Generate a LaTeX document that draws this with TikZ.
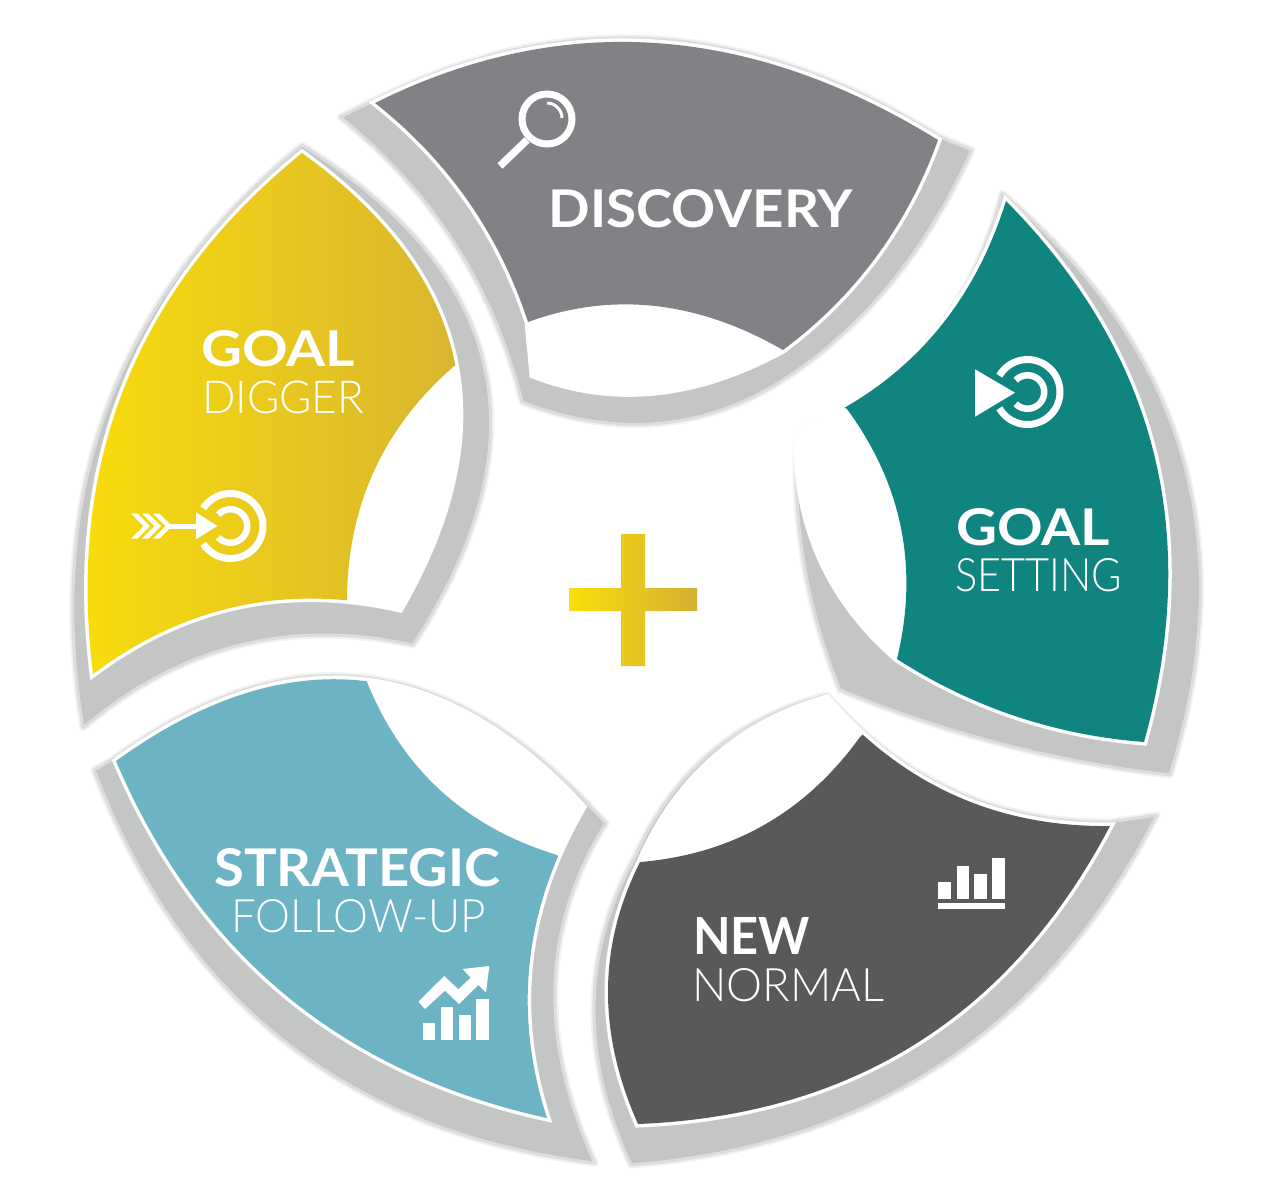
\documentclass[tikz,border=0pt]{standalone}
\usepackage{graphicx}
\usepackage{fontspec}
\setmainfont{Lato}
\newfontfamily\lightfont{Lato Light}
\definecolor{shadowc}{HTML}{C4C6C5}
\definecolor{discc}{HTML}{808285}
\definecolor{tealc}{HTML}{10857F}
\definecolor{newc}{HTML}{58595B}
\definecolor{stratc}{HTML}{6CB3C4}
\definecolor{yellowl}{HTML}{F9DE0A}
\definecolor{goldr}{HTML}{D5B033}
\definecolor{goldm}{HTML}{DFBE2E}
\tikzset{
  shadowshape/.style={fill=shadowc,draw=shadowc!60!white,line width=3,line join=round,
    preaction={draw=shadowc!25!white,line width=7,line join=round}},
  whiteshape/.style={fill=white,draw=white,line width=7,line join=miter,miter limit=6},
  colorshape/.style={fill=#1,draw=none},
  goldshade/.style={left color=yellowl,middle color=goldm,right color=goldr,shading angle=90},
  icon/.style={fill=white,draw=none},
  ringline/.style={draw=white,line width=#1,line cap=butt},
  boldtext/.style={inner sep=0,anchor=base west,text=white},
  lighttext/.style={inner sep=0,anchor=base west,text=white},
}
\newcommand{\fitbold}[3]{\resizebox{#1pt}{#2pt}{\bfseries #3}}
\newcommand{\fitlight}[3]{\resizebox{#1pt}{#2pt}{\lightfont #3}}
\newcommand{\ringarc}[5]{plot[domain=#4:#5,samples=50,smooth] ({#1+#3*cos(\x)},{#2+#3*sin(\x)})}
\newcommand{\chevron}[1]{(#1,513.5) -- (#1+6.5,513.5) -- (#1+19,526) -- (#1+6.5,538.5) -- (#1,538.5) -- (#1+12.5,526) -- cycle}
% curve from the current point (x0,y0) through its middle (mx,my) to (x1,y1)
\newcommand{\qc}[6]{.. controls ({(4*#3-#5)/3},{(4*#4-#6)/3}) and ({(4*#3-#1)/3},{(4*#4-#2)/3}) .. (#5,#6)}
% full outlines
\newcommand{\FDisc}{(375,103) \qc{375}{103}{655}{43}{938}{140} \qc{938}{140}{876}{257}{783}{350} \qc{783}{350}{655}{392}{533}{375} -- (528,322) \qc{528}{322}{468}{201}{375}{103} -- cycle}
\newcommand{\FTeal}{(1006,201) \qc{1006}{201}{1153}{450}{1144}{742} \qc{1144}{742}{1015}{716}{897}{659} \qc{897}{659}{820}{557}{797}{431} \qc{797}{431}{928}{341}{1006}{201} -- cycle}
\newcommand{\FNew}{(827,698) \qc{827}{698}{954}{795}{1110}{826} \qc{1110}{826}{917}{1043}{638}{1124} \qc{638}{1124}{608}{990}{640}{862} \qc{640}{862}{714}{758}{827}{698} -- cycle}
\newcommand{\FStrat}{(116,761) \qc{116}{761}{360}{680.5}{583}{807} \qc{583}{807}{530}{960}{547}{1118} \qc{547}{1118}{285.5}{995}{116}{761} -- cycle}
\newcommand{\FGold}{(302,153) \qc{302}{153}{125.5}{384.5}{93}{674} \qc{93}{674}{239}{606}{400}{609} \qc{400}{609}{454}{359}{302}{153} -- cycle}
\begin{document}
\begin{tikzpicture}[x=1pt,y=-1pt]
\useasboundingbox (0,0) rectangle (1266,1200);
\fill[white] (0,0) rectangle (1266,1200);

% ---------- shadows ----------
\path[shadowshape] (340,117) \qc{340}{117}{455}{244}{522}{402} \qc{522}{402}{650}{424}{770}{388} \qc{770}{388}{885}{290}{972}{150}
  -- (938,136) \qc{938}{136}{655}{39}{375}{100} -- cycle;
\path[shadowshape] (1002,193) \qc{1002}{193}{1182}{456}{1170}{775} \qc{1170}{775}{1002}{744}{840}{690}
  \qc{840}{690}{804}{563}{797}{431} \qc{797}{431}{928}{341}{1002}{193} -- cycle;
\path[shadowshape] (1157,815) \qc{1157}{815}{943}{1063}{631}{1165} \qc{631}{1165}{594}{1005}{636}{855}
  \qc{636}{855}{712}{752}{827}{695} \qc{827}{695}{954}{791}{1110}{822} -- cycle;
\path[shadowshape] (606,823) \qc{606}{823}{555}{985}{595}{1163} \qc{595}{1163}{285.5}{1042}{94}{770}
  -- (116,757) \qc{116}{757}{360}{677}{587}{803} -- cycle;
\path[shadowshape] (83,728) \qc{83}{728}{238}{645.5}{413}{645} \qc{413}{645}{484.5}{367}{302}{145}
  \qc{302}{145}{108.5}{404.5}{83}{728} -- cycle;

% ---------- white bodies ----------
\path[whiteshape] \FDisc;
\path[whiteshape] \FTeal;
\path[whiteshape] \FNew;
\path[whiteshape] \FStrat;
\path[whiteshape] \FGold;

% ---------- coloured parts ----------
\begin{scope}
  \clip (528,322) \qc{528}{322}{655}{306}{783}{350} -- (1000,350) -- (1000,0) -- (300,0) -- (300,322) -- cycle;
  \path[colorshape=discc] \FDisc;
\end{scope}
\begin{scope}
  \clip (847,409) \qc{847}{409}{901}{528}{897}{659} -- (897,900) -- (1300,900) -- (1300,100) -- (830,100) -- (830,398) -- cycle;
  \path[colorshape=tealc] \FTeal;
\end{scope}
\begin{scope}
  \clip (640,862) \qc{640}{862}{764}{825}{860}{737} -- (870,728) -- (1300,728) -- (1300,1300) -- (400,1300) -- (400,862) -- cycle;
  \path[colorshape=newc] \FNew;
\end{scope}
\begin{scope}
  \clip (367,682) \qc{367}{682}{440}{790}{554}{854} -- (570,861) -- (570,1300) -- (0,1300) -- (0,600) -- (367,600) -- cycle;
  \path[colorshape=stratc] \FStrat;
\end{scope}
\begin{scope}
  \clip (347,597) \qc{347}{597}{374.5}{470}{453}{367} -- (470,354) -- (470,100) -- (0,100) -- (0,800) -- (347,800) -- cycle;
  \shade[goldshade] \FGold;
\end{scope}

% ---------- centre plus ----------
\shade[goldshade]
  (569,588) -- (621,588) -- (621,534) -- (645,534) -- (645,588) -- (697,588) -- (697,611)
  -- (645,611) -- (645,666) -- (621,666) -- (621,611) -- (569,611) -- cycle;

% ---------- magnifier ----------
\coordinate (lensc) at (547,119);
\coordinate (handlea) at (527,140);
\coordinate (handleb) at (500,166);
\coordinate (glinta) at (547,103);
\coordinate (glintb) at (562,118);
\draw[white,line width=7] (lensc) circle[radius=25];
\draw[white,line width=7.5] (handlea) -- (handleb);
\draw[white,line width=3] (glinta) .. controls (555,103) and (562,110) .. (glintb);

% ---------- goal setting target ----------
\draw[ringline=7] \ringarc{1027.5}{392}{32.5}{-150}{150};
\draw[ringline=6.5] \ringarc{1027.5}{392}{16.7}{-135}{135};
\path[icon] (975,369.3) -- (975,416.7) -- (1015,392.7) -- cycle;

% ---------- goal digger target and arrow ----------
\draw[ringline=7] \ringarc{230.5}{526}{32.5}{-147}{147};
\draw[ringline=6.5] \ringarc{230.5}{526}{16.7}{-137}{137};
\path[icon] (196,512.3) -- (196,539.3) -- (217.3,526) -- cycle;
\draw[white,line width=5] (165,526) -- (198,526);
\path[icon] \chevron{131};
\path[icon] \chevron{142};
\path[icon] \chevron{153};

% ---------- strategic chart ----------
\path[icon] (422.7,1022.7) rectangle (435,1040);
\path[icon] (440.7,1006.7) rectangle (453.3,1040);
\path[icon] (458.7,1015) rectangle (471.3,1040);
\path[icon] (476,998.7) rectangle (488.7,1040);
\path[icon] (418.3,1001.7) -- (444.3,976) -- (458.3,989.3) -- (470.7,977.7) -- (462.7,969) -- (489.3,966)
  -- (486,992.7) -- (478.3,985) -- (459,1004) -- (445,990.7) -- (425,1009) -- cycle;

% ---------- new normal chart ----------
\path[icon] (938.3,881.7) rectangle (951,899);
\path[icon] (956.7,866) rectangle (969.3,899);
\path[icon] (974.3,874.3) rectangle (987,899);
\path[icon] (992,858.3) rectangle (1004.7,899);
\path[icon] (938.3,903.3) rectangle (1004.7,909);

% ---------- texts ----------
\node[boldtext] (discovery) at (548.5,227) {\fitbold{304}{38}{DISCOVERY}};
\node[boldtext] (goalset) at (956,545) {\fitbold{154}{37}{GOAL}};
\node[lighttext] (setting) at (955,591) {\fitlight{167}{33}{SETTING}};
\node[boldtext] (newword) at (693,954) {\fitbold{117}{37}{NEW}};
\node[lighttext] (normal) at (692,1001) {\fitlight{192}{33}{NORMAL}};
\node[boldtext] (strategic) at (214,886) {\fitbold{286}{38}{STRATEGIC}};
\node[lighttext] (followup) at (231,932) {\fitlight{255}{33}{FOLLOW-UP}};
\node[boldtext] (goaldig) at (201,366) {\fitbold{154}{36}{GOAL}};
\node[lighttext] (digger) at (202,413.5) {\fitlight{162}{32.5}{DIGGER}};
\end{tikzpicture}
\end{document}
